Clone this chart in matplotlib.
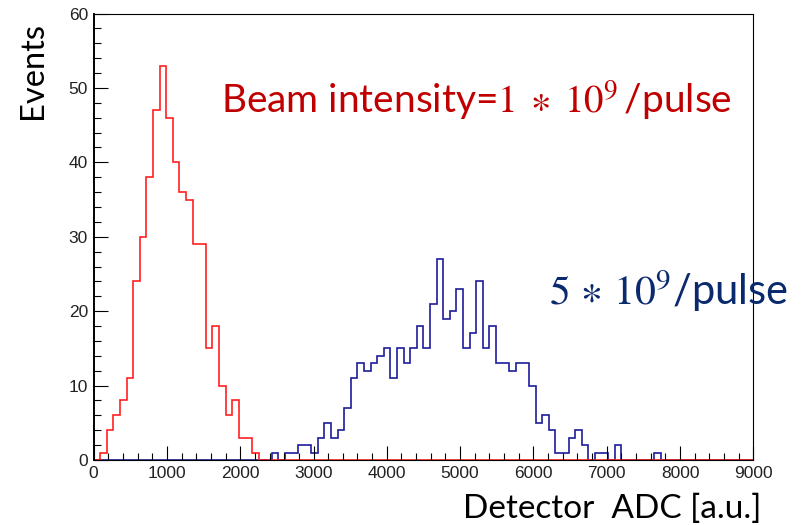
import numpy as np
import matplotlib
matplotlib.use("Agg")
import matplotlib.pyplot as plt
from matplotlib.ticker import MultipleLocator

# 100 bins of 90 ADC counts each, 0..9000
edges = np.linspace(0, 9000, 101)

# beam intensity 1e9 / pulse (red)
low_counts = [0, 1, 4, 6, 8, 11, 24, 30, 38, 47, 53, 46, 40, 36, 35, 29, 29, 15, 18, 10,
              6, 8, 3, 3, 1, 0, 0, 0, 0, 0, 0, 0, 0, 0, 0, 0, 0, 0, 0, 0,
              0, 0, 0, 0, 0, 0, 0, 0, 0, 0, 0, 0, 0, 0, 0, 0, 0, 0, 0, 0,
              0, 0, 0, 0, 0, 0, 0, 0, 0, 0, 0, 0, 0, 0, 0, 0, 0, 0, 0, 0,
              0, 0, 0, 0, 0, 0, 0, 0, 0, 0, 0, 0, 0, 0, 0, 0, 0, 0, 0, 0]

# beam intensity 5e9 / pulse (blue)
high_counts = [0, 0, 0, 0, 0, 0, 0, 0, 0, 0, 0, 0, 0, 0, 0, 0, 0, 0, 0, 0,
               0, 0, 0, 0, 0, 0, 0, 1, 0, 1, 1, 2, 2, 1, 3, 5, 3, 4, 7, 11,
               13, 12, 13, 14, 15, 11, 15, 13, 15, 18, 15, 21, 27, 19, 20, 23, 15, 17, 24, 15,
               18, 13, 13, 12, 13, 13, 10, 5, 6, 4, 1, 1, 3, 4, 2, 0, 1, 1, 0, 2,
               0, 0, 0, 0, 0, 1, 0, 0, 0, 0, 0, 0, 0, 0, 0, 0, 0, 0, 0, 0]

plt.rcParams['mathtext.fontset'] = 'stix'

W, H = 802, 525
fig = plt.figure(figsize=(W/100, H/100), dpi=100)
ax = fig.add_axes([93.6/W, 1-460/H, (753.3-93.6)/W, (460-13.5)/H])

ax.stairs(high_counts, edges, color='#1c1c9a', lw=1.2, baseline=0, clip_on=False)
ax.stairs(low_counts, edges, color='#ff2020', lw=1.2, baseline=0, clip_on=False)

ax.set_xlim(0, 9000)
ax.set_ylim(0, 60)
ax.xaxis.set_major_locator(MultipleLocator(1000))
ax.xaxis.set_minor_locator(MultipleLocator(200))
ax.yaxis.set_major_locator(MultipleLocator(10))
ax.yaxis.set_minor_locator(MultipleLocator(2))
ax.tick_params(which='both', direction='in', top=False, right=False,
               labelsize=12.5, labelcolor='#222222', width=0.8)
ax.tick_params(which='major', length=10, pad=4)
ax.tick_params(which='minor', length=5)
for lab in ax.get_xticklabels() + ax.get_yticklabels():
    lab.set_family('Liberation Sans')
ax.spines['left'].set_linewidth(1.4)
for s in ['top', 'right', 'bottom']:
    ax.spines[s].set_linewidth(0.8)

fig.text(33/W, 1-22/H, 'Events', rotation=90, ha='center', va='top',
         family='Lato', size=23.5)
fig.text(463/W, 1-518/H, 'Detector  ADC [a.u.]', ha='left', va='baseline',
         family='Lato', size=24)
fig.text(221/W, 1-113/H, r'Beam intensity=$1\;\ast\;10^{9}\,$/pulse', ha='left',
         va='baseline', family='Lato', size=28, color='#c00000')
fig.text(549/W, 1-305/H, r'$5\,\ast\,10^{9}$/pulse', ha='left', va='baseline',
         family='Lato', size=30, color='#0a2a6e')

fig.savefig('out.png', dpi=100)
